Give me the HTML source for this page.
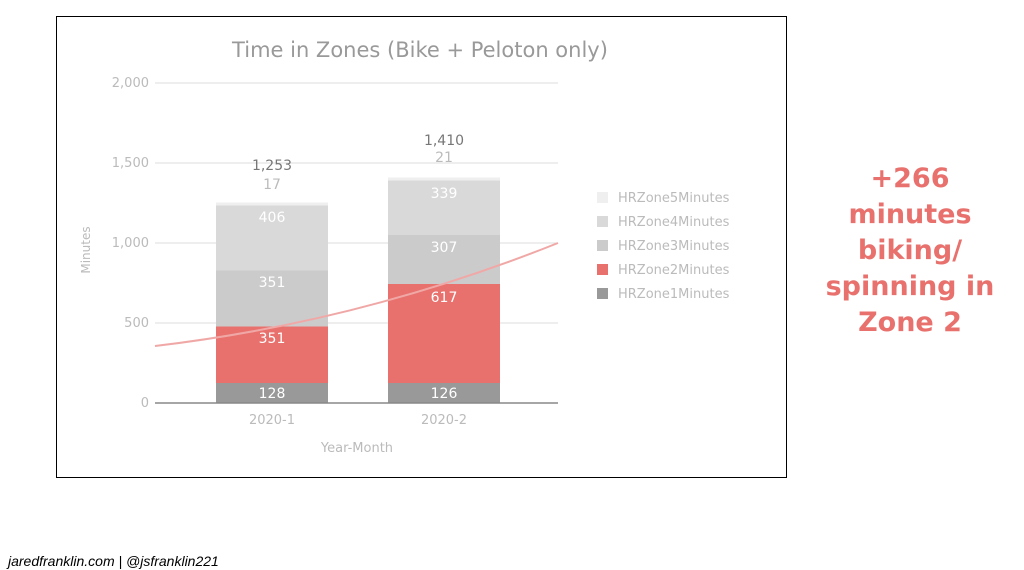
<!DOCTYPE html>
<html><head><style>
body{margin:0;width:1024px;height:570px;background:#fff;overflow:hidden;font-family:"DejaVu Sans","Liberation Sans",sans-serif;}
</style></head><body>
<svg width="1024" height="570" xmlns="http://www.w3.org/2000/svg" style="position:absolute;left:0;top:0">
<rect x="56.5" y="16.5" width="730" height="461" fill="#fff" stroke="#000" stroke-width="1"/>
<text x="420" y="57" text-anchor="middle" font-size="21" fill="#999">Time in Zones (Bike + Peloton only)</text>
<g stroke="#ddd" stroke-width="1">
<line x1="155" y1="83" x2="558" y2="83"/><line x1="155" y1="163" x2="558" y2="163"/>
<line x1="155" y1="243" x2="558" y2="243"/><line x1="155" y1="323" x2="558" y2="323"/>
</g>
<g font-size="13" fill="#bbb" text-anchor="end">
<text x="149" y="87">2,000</text><text x="149" y="167">1,500</text><text x="149" y="247">1,000</text><text x="149" y="327">500</text><text x="149" y="407">0</text>
</g>
<text transform="translate(90,250) rotate(-90)" text-anchor="middle" font-size="12" fill="#bbb">Minutes</text>
<rect x="216" y="383" width="112" height="20" fill="#999"/>
<rect x="216" y="326.5" width="112" height="56.5" fill="#e8716d"/>
<rect x="216" y="270.5" width="112" height="56" fill="#cbcbcb"/>
<rect x="216" y="205.5" width="112" height="65" fill="#d9d9d9"/>
<rect x="216" y="202.5" width="112" height="3" fill="#efefef"/>
<rect x="388" y="383" width="112" height="20" fill="#999"/>
<rect x="388" y="284" width="112" height="99" fill="#e8716d"/>
<rect x="388" y="235" width="112" height="49" fill="#cbcbcb"/>
<rect x="388" y="180.5" width="112" height="54.5" fill="#d9d9d9"/>
<rect x="388" y="177.5" width="112" height="3" fill="#efefef"/>
<line x1="155" y1="403" x2="558" y2="403" stroke="#888" stroke-width="1.5"/>
<path d="M155,346 Q360,322 558,243" fill="none" stroke="#f0a8a6" stroke-width="2"/>
<g font-size="14" fill="#fff" text-anchor="middle">
<text x="272" y="398">128</text><text x="272" y="343">351</text><text x="272" y="287">351</text><text x="272" y="222">406</text>
<text x="444" y="398">126</text><text x="444" y="302">617</text><text x="444" y="252">307</text><text x="444" y="198">339</text>
</g>
<text x="272" y="170" text-anchor="middle" font-size="14" fill="#777">1,253</text>
<text x="272" y="189" text-anchor="middle" font-size="14" fill="#bbb">17</text>
<text x="444" y="145" text-anchor="middle" font-size="14" fill="#777">1,410</text>
<text x="444" y="162" text-anchor="middle" font-size="14" fill="#bbb">21</text>
<g font-size="13" fill="#bbb" text-anchor="middle">
<text x="272" y="424">2020-1</text><text x="444" y="424">2020-2</text>
<text x="357" y="452">Year-Month</text>
</g>
<g font-size="13" fill="#bbb">
<rect x="597" y="192" width="11" height="11" fill="#efefef"/><text x="618" y="202">HRZone5Minutes</text>
<rect x="597" y="216" width="11" height="11" fill="#d9d9d9"/><text x="618" y="226">HRZone4Minutes</text>
<rect x="597" y="240" width="11" height="11" fill="#cbcbcb"/><text x="618" y="250">HRZone3Minutes</text>
<rect x="597" y="264" width="11" height="11" fill="#e8716d"/><text x="618" y="274">HRZone2Minutes</text>
<rect x="597" y="288" width="11" height="11" fill="#999"/><text x="618" y="298">HRZone1Minutes</text>
</g>
<g font-family="DejaVu Sans, sans-serif" font-weight="bold" font-size="27" fill="#e8716d" text-anchor="middle">
<text x="910" y="187">+266</text><text x="910" y="223">minutes</text><text x="910" y="259">biking/</text><text x="910" y="295">spinning in</text><text x="910" y="331">Zone 2</text>
</g>
<text x="8" y="566" font-family="Liberation Sans, sans-serif" font-style="italic" font-size="14" fill="#000">jaredfranklin.com | @jsfranklin221</text>
</svg>
</body></html>
